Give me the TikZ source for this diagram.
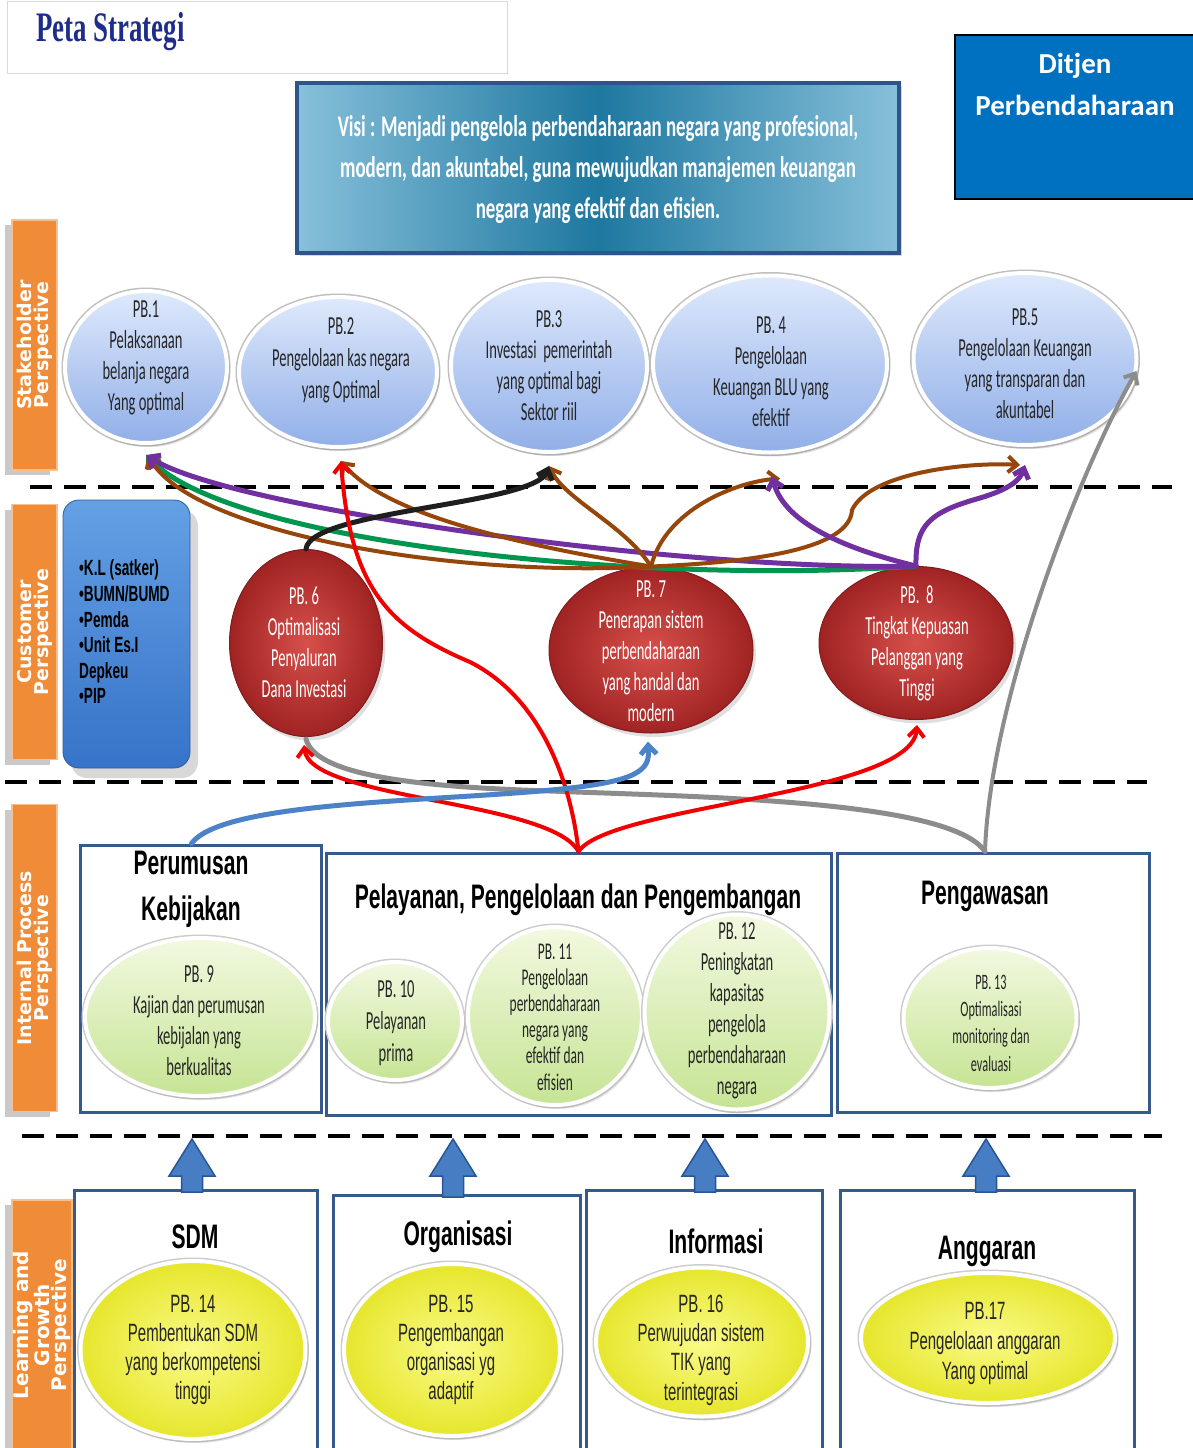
\documentclass[tikz,border=0pt]{standalone}
\usepackage{fontspec}
\usetikzlibrary{arrows.meta,shapes.geometric,shadows,calc}
\setmainfont{Carlito}
\newfontfamily\narrowfont[FakeStretch=0.56]{Carlito}
\newfontfamily\visifont[FakeStretch=0.63]{Carlito}
\newfontfamily\headfont[FakeStretch=0.62]{Liberation Sans}
\newfontfamily\yellowfont[FakeStretch=0.6]{Liberation Sans}
\newfontfamily\perspfont{DejaVu Sans}
\newfontfamily\titlefont[FakeStretch=0.64]{Liberation Serif}

\definecolor{titleblue}{RGB}{30,45,140}
\definecolor{ditjenblue}{RGB}{0,112,192}
\definecolor{visidark}{RGB}{30,120,160}
\definecolor{visilight}{RGB}{135,192,218}
\definecolor{visiborder}{RGB}{45,85,140}
\definecolor{perspor}{RGB}{240,140,55}
\definecolor{perspedge}{RGB}{250,190,140}
\definecolor{staketop}{RGB}{222,233,252}
\definecolor{stakebot}{RGB}{145,175,232}
\definecolor{redin}{RGB}{215,80,75}
\definecolor{redout}{RGB}{160,35,35}
\definecolor{greentop}{RGB}{242,249,224}
\definecolor{greenbot}{RGB}{198,228,148}
\definecolor{yellin}{RGB}{250,250,135}
\definecolor{yellout}{RGB}{230,230,45}
\definecolor{custtop}{RGB}{100,160,228}
\definecolor{custbot}{RGB}{55,115,200}
\definecolor{boxline}{RGB}{55,90,140}
\definecolor{arrfill}{RGB}{70,125,195}
\definecolor{arredge}{RGB}{40,85,150}
\definecolor{cred}{RGB}{240,0,0}
\definecolor{cpurple}{RGB}{112,48,160}
\definecolor{cbrown}{RGB}{150,70,10}
\definecolor{cgreen}{RGB}{0,150,80}
\definecolor{cblack}{RGB}{30,30,30}
\definecolor{cgray}{RGB}{140,140,140}
\definecolor{cblue}{RGB}{75,130,200}

\begin{document}
\begin{tikzpicture}[x=1pt,y=-1pt,
  stakeE/.style={ellipse, inner sep=0, top color=staketop, bottom color=stakebot,
    draw=white, line width=4pt, preaction={draw=black!25, line width=7pt},
    drop shadow={shadow xshift=3pt, shadow yshift=-4pt, opacity=0.25}},
  custE/.style={ellipse, inner sep=0, inner color=redin, outer color=redout,
    draw=redout!80!black, line width=1pt,
    drop shadow={shadow xshift=3pt, shadow yshift=-4pt, opacity=0.25}},
  greenE/.style={ellipse, inner sep=0, top color=greentop, bottom color=greenbot,
    draw=white, line width=4pt, preaction={draw=black!20, line width=7pt},
    drop shadow={shadow xshift=3pt, shadow yshift=-4pt, opacity=0.2}},
  yellE/.style={ellipse, inner sep=0, inner color=yellin, outer color=yellout,
    draw=white, line width=4pt, preaction={draw=black!20, line width=7pt},
    drop shadow={shadow xshift=3pt, shadow yshift=-4pt, opacity=0.2}},
  stxt/.style={align=center, inner sep=0, text=black!85,
    font=\narrowfont\fontsize{26}{31}\selectfont},
  wtxt/.style={stxt, text=white},
  ytxt/.style={align=center, inner sep=0, text=black!85,
    font=\yellowfont\fontsize{25}{29.3}\selectfont},
  perspbox/.style={rectangle, fill=perspor, draw=perspedge, line width=1.5pt,
    text=white, align=center, inner sep=0, rotate=90,
    font=\perspfont\bfseries\fontsize{19}{17}\selectfont,
    drop shadow={shadow xshift=-7pt, shadow yshift=-5pt, opacity=0.35, fill=black!60}},
  procbox/.style={rectangle, draw=boxline, line width=3pt, fill=white, inner sep=0},
  headtxt/.style={align=center, inner sep=0, text=black,
    font=\headfont\bfseries\fontsize{34}{46}\selectfont},
  sepline/.style={draw=black, line width=3.5pt, dash pattern=on 22pt off 12pt},
  blockarrow/.style={fill=arrfill, draw=arredge, line width=1.5pt, line join=miter},
  conn/.style={line width=4pt, line cap=round,
    -{Straight Barb[length=9pt,width=16pt]}},
  plain/.style={line width=5pt, line cap=round}
]
\useasboundingbox (0,0) rectangle (1192,1448);
\fill[white] (0,0) rectangle (1192,1448);

% ---------- header ----------
\node[draw=black!15, line width=1pt, fill=white, anchor=north west,
  minimum width=500pt, minimum height=72pt, inner sep=0] (titlebox) at (7,1) {};
\node[anchor=west, inner sep=0, text=titleblue,
  font=\titlefont\bfseries\fontsize{42}{46}\selectfont] (title) at (36,32) {Peta Strategi};

\node[draw=black, line width=2pt, fill=ditjenblue, anchor=north west,
  minimum width=250pt, minimum height=164pt, inner sep=0] (ditjen) at (954,34) {};
\node[align=center, inner sep=0, text=white,
  font=\bfseries\fontsize{29}{42}\selectfont] (ditjentext) at (1075,84) {Ditjen\\Perbendaharaan};

\node[rectangle, minimum width=602pt, minimum height=170pt, inner sep=0,
  left color=visilight, right color=visilight, middle color=visidark,
  draw=visiborder, line width=4pt,
  drop shadow={shadow xshift=3pt, shadow yshift=-3pt, opacity=0.3}] (visi) at (598,168) {};
\node[align=center, inner sep=0, text=white,
  font=\visifont\bfseries\fontsize{30}{41}\selectfont] (visitext) at (598,170)
  {Visi : Menjadi pengelola perbendaharaan negara yang profesional,\\
   modern, dan akuntabel, guna mewujudkan manajemen keuangan\\
   negara yang efektif dan efisien.};

% ---------- perspective labels ----------
\node[perspbox, minimum width=250pt, minimum height=45pt] (lstake) at (34.5,345) {Stakeholder\\Perspective};
\node[perspbox, minimum width=255pt, minimum height=45pt] (lcust) at (34.5,632) {Customer\\Perspective};
\node[perspbox, minimum width=307pt, minimum height=45pt] (lint) at (34.5,958) {Internal Process\\Perspective};
\node[perspbox, minimum width=250pt, minimum height=60pt,
  font=\perspfont\bfseries\fontsize{20}{17.5}\selectfont] (llearn) at (42,1325) {Learning and\\Growth\\Perspective};

% ---------- separators ----------
\draw[sepline] (30,487) -- (1172,487);
\draw[sepline] (5,782) -- (1147,782);
\draw[sepline] (22,1136) -- (1162,1136);

% ---------- customer list ----------
\node[rectangle, rounded corners=16pt, minimum width=127pt, minimum height=268pt, inner sep=0,
  top color=custtop, bottom color=custbot, draw=custbot!80!black, line width=0.8pt,
  drop shadow={shadow xshift=8pt, shadow yshift=-10pt, opacity=0.3}] (custbox) at (126.5,634) {};
\node[anchor=west, align=left, inner sep=0, text=black,
  font=\headfont\bfseries\fontsize{22}{25.6}\selectfont] (custtext) at (79,632)
  {•K.L (satker)\\•BUMN/BUMD\\•Pemda\\•Unit Es.I\\Depkeu\\•PIP};

% ---------- stakeholder objectives ----------
\node[stakeE, minimum width=162pt, minimum height=152pt] (pb1) at (146,367) {};
\node[stakeE, minimum width=198pt, minimum height=150pt] (pb2) at (338,372) {};
\node[stakeE, minimum width=196pt, minimum height=172pt] (pb3) at (549,366) {};
\node[stakeE, minimum width=234pt, minimum height=177pt] (pb4) at (770,364) {};
\node[stakeE, minimum width=223pt, minimum height=172pt] (pb5) at (1025,359) {};
\node[stxt] (pb1t) at (146,358) {PB.1\\Pelaksanaan\\belanja negara\\Yang optimal};
\node[stxt, font=\narrowfont\fontsize{26}{32}\selectfont] (pb2t) at (341,360) {PB.2\\Pengelolaan kas negara\\yang Optimal};
\node[stxt] (pb3t) at (549,366) {PB.3\\Investasi\ \ pemerintah\\yang optimal bagi\\Sektor riil};
\node[stxt] (pb4t) at (771,372) {PB. 4\\Pengelolaan\\Keuangan BLU yang\\efektif};
\node[stxt] (pb5t) at (1025,364) {PB.5\\Pengelolaan Keuangan\\yang transparan dan\\akuntabel};

% ---------- customer objectives ----------
\node[custE, minimum width=153pt, minimum height=187pt] (pb6) at (306,643) {};
\node[custE, minimum width=204pt, minimum height=166pt] (pb7) at (651,650) {};
\node[custE, minimum width=194pt, minimum height=153pt] (pb8) at (916,643) {};
\node[wtxt] (pb6t) at (304,642) {PB. 6\\Optimalisasi\\Penyaluran\\Dana Investasi};
\node[wtxt] (pb7t) at (651,651) {PB. 7\\Penerapan sistem\\perbendaharaan\\yang handal dan\\modern};
\node[wtxt] (pb8t) at (917,643) {PB.\ \ 8\\Tingkat Kepuasan\\Pelanggan yang\\Tinggi};

% ---------- internal process ----------
\node[procbox, minimum width=241pt, minimum height=267pt] (perum) at (200.5,978.5) {};
\node[procbox, minimum width=505pt, minimum height=262pt] (pel) at (578.5,984) {};
\node[procbox, minimum width=312pt, minimum height=259pt] (peng) at (993,982.5) {};
\node[headtxt] (perumT) at (191,889) {Perumusan\\Kebijakan};
\node[headtxt] (pelT) at (578,900) {Pelayanan, Pengelolaan dan Pengembangan};
\node[headtxt] (pengT) at (985,896) {Pengawasan};

\node[greenE, minimum width=230pt, minimum height=158pt] (pb9) at (200,1017) {};
\node[greenE, minimum width=134pt, minimum height=118pt] (pb10) at (395,1021) {};
\node[greenE, minimum width=174pt, minimum height=178pt] (pb11) at (555,1016) {};
\node[greenE, minimum width=185pt, minimum height=195pt] (pb12) at (737,1012) {};
\node[greenE, minimum width=173pt, minimum height=140pt] (pb13) at (990,1018) {};
\node[stxt] (pb9t) at (199,1021) {PB. 9\\Kajian dan perumusan\\kebijalan yang\\berkualitas};
\node[stxt, font=\narrowfont\fontsize{26}{32}\selectfont] (pb10t) at (396,1023) {PB. 10\\Pelayanan\\prima};
\node[stxt, font=\narrowfont\fontsize{24}{26.2}\selectfont] (pb11t) at (555,1017) {PB. 11\\Pengelolaan\\perbendaharaan\\negara yang\\efektif dan\\efisien};
\node[stxt] (pb12t) at (737,1011) {PB. 12\\Peningkatan\\kapasitas\\pengelola\\perbendaharaan\\negara};
\node[stxt, font=\narrowfont\fontsize{22}{27.3}\selectfont] (pb13t) at (991,1023) {PB. 13\\Optimalisasi\\monitoring dan\\evaluasi};

% ---------- learning and growth ----------
\node[procbox, minimum width=243pt, minimum height=266pt] (sdm) at (196,1323) {};
\node[procbox, minimum width=247pt, minimum height=261pt] (org) at (456.5,1325.5) {};
\node[procbox, minimum width=236pt, minimum height=266pt] (info) at (704,1323) {};
\node[procbox, minimum width=294pt, minimum height=266pt] (angg) at (987,1323) {};
\node[headtxt] (sdmT) at (195,1237) {SDM};
\node[headtxt] (orgT) at (458,1237) {Organisasi};
\node[headtxt] (infoT) at (716,1241) {Informasi};
\node[headtxt] (anggT) at (987,1251) {Anggaran};

\node[yellE, minimum width=225pt, minimum height=178pt] (pb14) at (193,1350) {};
\node[yellE, minimum width=216pt, minimum height=172pt] (pb15) at (452,1350) {};
\node[yellE, minimum width=212pt, minimum height=149pt] (pb16) at (702,1342) {};
\node[yellE, minimum width=254pt, minimum height=130pt] (pb17) at (988,1338) {};
\node[ytxt] (pb14t) at (193,1350) {PB. 14\\Pembentukan SDM\\yang berkompetensi\\tinggi};
\node[ytxt] (pb15t) at (451,1350) {PB. 15\\Pengembangan\\organisasi yg\\adaptif};
\node[ytxt] (pb16t) at (701,1350) {PB. 16\\Perwujudan sistem\\TIK yang\\terintegrasi};
\node[ytxt, font=\yellowfont\fontsize{25}{30}\selectfont] (pb17t) at (985,1343) {PB.17\\Pengelolaan anggaran\\Yang optimal};

% block arrows from each learning box up to the process layer
\foreach \x/\ytop in {192/1192, 453/1197, 705/1192, 986/1192} {
  \draw[blockarrow] (\x-10.5,\ytop) -- (\x-10.5,1176) -- (\x-23,1176) -- (\x,1139)
    -- (\x+23,1176) -- (\x+10.5,1176) -- (\x+10.5,\ytop) -- cycle;
}

% ---------- customer -> stakeholder links ----------
\draw[conn, cgreen, line width=5pt] (pb8.north) .. controls (650,585) and (230,545) .. ($(pb1.south)+(0,10)$);
\draw[conn, cbrown] (pb7.north) .. controls (450,578) and (190,532) .. ($(pb1.south)+(2,10)$);
\draw[conn, cpurple, line width=5pt] (pb8.north) .. controls (700,572) and (230,510) .. ($(pb1.south)+(0,10)$);
\draw[conn, cbrown] (pb7.north) .. controls (520,545) and (385,515) .. ($(pb2.south)+(3,12)$);
\draw[conn, cbrown] (pb7.north) .. controls (625,525) and (565,500) .. ($(pb3.south)+(0,12)$);
\draw[conn, cbrown] (pb7.north) .. controls (665,510) and (735,482) .. ($(pb4.south)+(10,24)$);
\draw[conn, cbrown] (pb7.north) .. controls (760,562) and (850,548) .. (852,510)
  .. controls (870,472) and (970,462) .. ($(pb5.south)+(-5,18)$);
\draw[conn, cpurple, line width=5pt] (pb8.north) .. controls (850,550) and (785,525) .. ($(pb4.south)+(2,22)$);
\draw[conn, cpurple, line width=5pt] (pb8.north) .. controls (915,525) and (930,512) .. (980,498)
  .. controls (1010,489) and (1020,480) .. ($(pb5.south)+(0,18)$);
\draw[conn, cblack, line width=5pt] (pb6.north) .. controls (310,510) and (535,505) .. ($(pb3.south)+(0,12)$);

% ---------- process -> customer / stakeholder links ----------
\draw[plain, cgray] ($(peng.north)+(-8,0)$) .. controls (950,800) and (700,797) .. (550,791)
  .. controls (420,787) and (315,776) .. ($(pb6.south)+(0,2)$);
\draw[conn, cred] (pel.north) .. controls (572,790) and (545,700) .. (470,662)
  .. controls (390,628) and (350,590) .. ($(pb2.south)+(3,12)$);
\draw[conn, cred] (pel.north) .. controls (550,800) and (310,800) .. ($(pb6.south)+(-2,8)$);
\draw[conn, cred] (pel.north) .. controls (610,805) and (912,795) .. ($(pb8.south)+(1,5)$);
\draw[conn, cgray] ($(peng.north)+(-8,0)$) .. controls (990,700) and (1080,470) .. ($(pb5.east)+(-2,12)$);
\draw[conn, cblue, line width=5pt] ($(perum.north)+(-9,0)$) .. controls (230,790) and (560,805) .. (630,776)
  .. controls (648,768) and (649,760) .. ($(pb7.south)+(-3,8)$);
\end{tikzpicture}
\end{document}
